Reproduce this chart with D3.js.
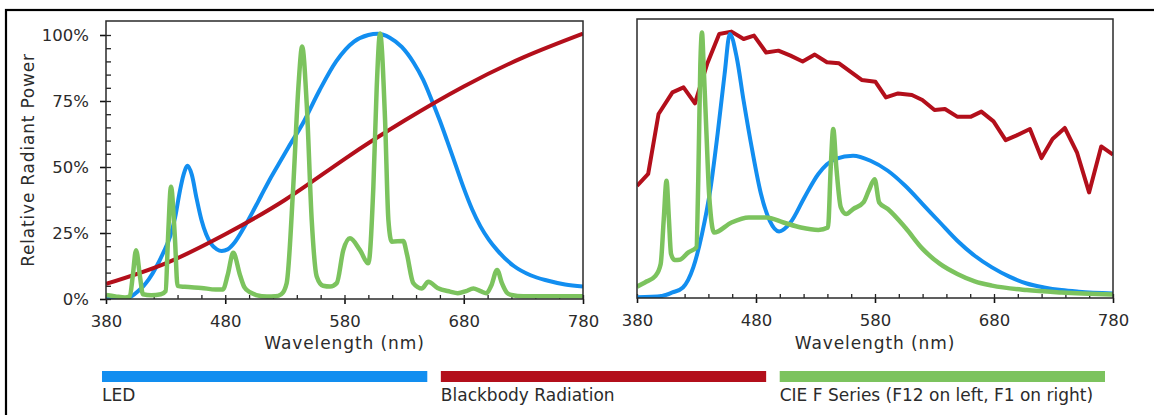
<!DOCTYPE html>
<html>
<head>
<meta charset="utf-8">
<script src="https://cdn.jsdelivr.net/npm/d3@7"></script>
<style>
	body { margin: 0; background: #fff; }
	#graphic { width: 1154px; height: 415px; }
	svg text { font-family: "DejaVu Sans", sans-serif; fill: #2b2b2b; }
</style>
</head>
<body>
<div id="graphic"></div>
<script>
// ---- data (wavelength nm, relative power %) ----
const ledLeft = [[380,0],[395,0.1],[402,1.2],[407,3],[411,4.7],[416,7.5],[422,12],[428,17.5],[434,24],[438,31],[442,41],[445,47],[448.5,50.5],[452,47],[456,38],[460,30],[464,24.5],[468,21],[473,18.8],[477,18.2],[482,18.8],[488,21.5],[495,26.5],[503,33],[510,39],[517,45],[524,50.5],[533,57.5],[545,66.5],[559,79],[573,90],[588,97.5],[600,100],[608,100.5],[618,99],[628,95.5],[638,89.5],[646,83],[653,75.5],[660,67.5],[666,60],[673,51],[680,42],[687,34],[694,27.5],[701,22.5],[708,18.5],[722,12.5],[736,9],[750,7],[765,5.5],[780,4.7]];

const blackbodyLeft = [[380,5.7],[430,13.5],[480,24.5],[530,37.5],[580,53],[630,67.5],[680,80.5],[730,91.5],[780,100.5]];

const cieF12 = [[380,1.5],[388,1],[396,0.6],[400,1],[402.4,8.5],[405.2,18.5],[408.5,8.5],[411,1.8],[418,1.4],[426,1.8],[430,3],[432,23],[434.5,42.5],[437.8,23],[440,5],[446,4.6],[460,4.2],[472,3.6],[478,3.6],[482,9],[486.7,17.5],[492.4,9],[496,4.5],[501,2.5],[506,1.5],[515,0.9],[522,1],[527,1.8],[531.5,6],[537,42.5],[541.3,80],[544.5,95.6],[548.3,74],[552.5,30],[556.7,8.5],[562,5],[568,4.7],[573.5,6],[579,18.5],[584.6,23],[593,18.5],[600,13.5],[604.2,42.5],[607,80],[609.8,100.6],[614,68],[616.8,30],[619.6,21.7],[629.3,22],[632.2,17.3],[637.7,6],[644.7,4],[650.3,6.5],[658,4.2],[668.5,2.8],[675,2.2],[682,3],[688,4],[694,3],[699,2.2],[703,5],[708,11],[712,6],[716,2.5],[720,1.5],[730,1],[780,1]];

const ledRight = [[380,0.3],[401,0.8],[409.8,2.1],[418.6,4],[427.3,11.6],[434.6,24.2],[441.9,41.9],[447.7,62],[453.6,84.8],[458,100],[463.8,91.1],[469.6,74.7],[476.9,55.8],[484.2,39.4],[491.5,29.3],[499.4,25.2],[509,28.6],[520.7,38.1],[532.4,47],[547,52.7],[561.6,53.9],[576.2,52],[590.8,48.2],[605.4,42.5],[620,35.6],[634.6,28.6],[649.2,21.7],[663.8,16],[678.3,11.6],[692.9,8.1],[707.5,5.5],[722.1,4],[736.7,3],[751.3,2.4],[780,1.7]];

const daylightRight = [[380,42.5],[389.4,47],[398.1,69.7],[409.8,77.9],[419.1,79.8],[428.7,73.7],[438.9,88.6],[449.1,100],[459.4,100.9],[469.6,98.1],[478.3,99.4],[488.5,93],[498.8,93.7],[509,91.8],[519.2,89.6],[529.4,92.2],[539.6,89.3],[549.8,88.9],[568.8,82.6],[580.4,81.9],[589.2,76],[599.4,77.5],[611,76.9],[619.8,75],[630,71.2],[638.8,71.6],[649,68.7],[660.7,68.7],[669.4,70.6],[679.6,66.9],[689.8,59.8],[698.6,61.5],[710.2,64],[719.9,53],[729.2,60.2],[739.5,64.4],[749.7,55.2],[759.9,40],[770.1,57.4],[780,54.3]];

const cieF1 = [[380,4.3],[386.7,5.9],[395.5,8.4],[399.9,12.9],[402.5,30],[404.8,44.4],[406.8,30],[408.6,16.7],[411.5,14.4],[415.9,14.5],[423.2,17.3],[429.9,19.2],[431.5,45],[433.2,88],[434.6,100.6],[436,88],[438.4,62],[440.5,40],[441.9,31.8],[444.8,24.8],[459.4,28.6],[474,30.5],[488.5,30.5],[503.1,28.6],[517.7,26.7],[532.4,25.8],[540.5,26.7],[542.8,49.5],[544.9,64],[547.5,49.5],[551.3,34.3],[555.7,31.8],[561.6,33.7],[570.3,36.2],[574.7,40.6],[579.7,45],[583.5,36.2],[590.8,33.7],[605.4,26.7],[620,18.6],[634.6,12.9],[649.2,9.1],[663.8,6.3],[678.3,4.7],[707.5,3],[736.7,2.1],[780,1.3]];

const xTicks = [380, 480, 580, 680, 780];
const yTicks = [0, 25, 50, 75, 100];
const legendLabels = ['LED', 'Blackbody Radiation', 'CIE F Series (F12 on left, F1 on right)'];

const config = {
	colourPalette: ['#128ef0', '#b30f1b', '#7cc35e'],
	xDomain: [380, 780],
	xAxisLabel: 'Wavelength (nm)',
	yAxisLabel: 'Relative Radiant Power'
};

function drawPanel(svg, p) {
	const x = d3.scaleLinear().domain(config.xDomain).range([p.left, p.right]);
	const y = d3.scaleLinear().domain([0, 100]).range([p.bottom, p.bottom - 264]);

	svg.append('clipPath').attr('id', 'clip-' + p.id)
		.append('rect')
		.attr('x', p.left).attr('y', p.top)
		.attr('width', p.right - p.left).attr('height', p.bottom - p.top);

	// minor ticks pointing into the plot
	const minor = svg.append('g')
		.attr('transform', 'translate(0,' + p.bottom + ')')
		.call(d3.axisTop(x).tickValues(d3.range(380, 781, 20)).tickSize(4).tickFormat(''));
	minor.select('.domain').remove();
	minor.selectAll('line').attr('stroke', '#222').attr('stroke-width', 1.3);

	// major ticks + labels
	const xAxis = svg.append('g')
		.attr('transform', 'translate(0,' + p.bottom + ')')
		.call(d3.axisBottom(x).tickValues(xTicks).tickSize(5).tickPadding(11.5).tickFormat(d3.format('d')));
	xAxis.select('.domain').remove();
	xAxis.selectAll('line').attr('stroke', '#111').attr('stroke-width', 1.6);
	xAxis.selectAll('text').attr('font-size', 16.5).attr('font-family', null).attr('fill', '#2b2b2b');

	if (p.showY) {
		const yMinor = svg.append('g')
			.attr('transform', 'translate(' + p.left + ',0)')
			.call(d3.axisRight(y).tickValues(d3.range(0, 101, 5)).tickSize(5).tickFormat(''));
		yMinor.select('.domain').remove();
		yMinor.selectAll('line').attr('stroke', '#222').attr('stroke-width', 1.3);

		const yAxis = svg.append('g')
			.attr('transform', 'translate(' + p.left + ',0)')
			.call(d3.axisLeft(y).tickValues(yTicks).tickSize(6).tickPadding(11).tickFormat((d) => d + '%'));
		yAxis.select('.domain').remove();
		yAxis.selectAll('line').attr('stroke', '#111').attr('stroke-width', 1.6);
		yAxis.selectAll('text').attr('font-size', 16.5).attr('font-family', null).attr('fill', '#2b2b2b');

		svg.append('text')
			.attr('transform', 'translate(34,' + (p.top + p.bottom) / 2 + ') rotate(-90)')
			.attr('text-anchor', 'middle')
			.attr('font-size', 17)
			.attr('letter-spacing', 0.8)
			.text(config.yAxisLabel);
	}

	// curves
	const lines = svg.append('g').attr('clip-path', 'url(#clip-' + p.id + ')');
	p.series.forEach((s) => {
		lines.append('path')
			.datum(s.data)
			.attr('fill', 'none')
			.attr('stroke', config.colourPalette[s.colour])
			.attr('stroke-width', s.width)
			.attr('stroke-linejoin', 'round')
			.attr('d', d3.line()
				.curve(s.curve)
				.x((d) => x(d[0]))
				.y((d) => y(d[1])));
	});

	// plot frame
	svg.append('rect')
		.attr('x', p.left).attr('y', p.top)
		.attr('width', p.right - p.left).attr('height', p.bottom - p.top)
		.attr('fill', 'none').attr('stroke', '#2a2a2a').attr('stroke-width', 1.5);

	// x axis label
	svg.append('text')
		.attr('x', (p.left + p.right) / 2)
		.attr('y', 349)
		.attr('text-anchor', 'middle')
		.attr('font-size', 17)
		.attr('letter-spacing', 0.9)
		.text(config.xAxisLabel);
}

function drawGraphic() {
	const svg = d3.select('#graphic').append('svg')
		.attr('width', 1154).attr('height', 415);

	// outer border (runs off the right and bottom)
	svg.append('rect')
		.attr('x', 6).attr('y', 10)
		.attr('width', 1160).attr('height', 420)
		.attr('fill', 'none').attr('stroke', '#000').attr('stroke-width', 2.2);

	drawPanel(svg, {
		id: 'left', left: 106, right: 583, top: 21, bottom: 299, showY: true,
		series: [
			{ data: ledLeft, colour: 0, width: 4, curve: d3.curveMonotoneX },
			{ data: blackbodyLeft, colour: 1, width: 4, curve: d3.curveNatural },
			{ data: cieF12, colour: 2, width: 4.5, curve: d3.curveMonotoneX }
		]
	});

	drawPanel(svg, {
		id: 'right', left: 637, right: 1113, top: 19, bottom: 298, showY: false,
		series: [
			{ data: daylightRight, colour: 1, width: 4, curve: d3.curveLinear },
			{ data: ledRight, colour: 0, width: 4, curve: d3.curveMonotoneX },
			{ data: cieF1, colour: 2, width: 4.5, curve: d3.curveMonotoneX }
		]
	});

	// legend
	const band = d3.scaleBand().domain(legendLabels).range([102, 1105]).paddingInner(0.04);
	const legend = svg.append('g').selectAll('g').data(legendLabels).join('g')
		.attr('transform', (d) => 'translate(' + band(d) + ',0)');
	legend.append('rect')
		.attr('y', 371).attr('height', 11)
		.attr('width', band.bandwidth())
		.attr('fill', (d, i) => config.colourPalette[i]);
	legend.append('text')
		.attr('y', 401)
		.attr('font-size', 17)
		.text((d) => d);
}

drawGraphic();
</script>
</body>
</html>
